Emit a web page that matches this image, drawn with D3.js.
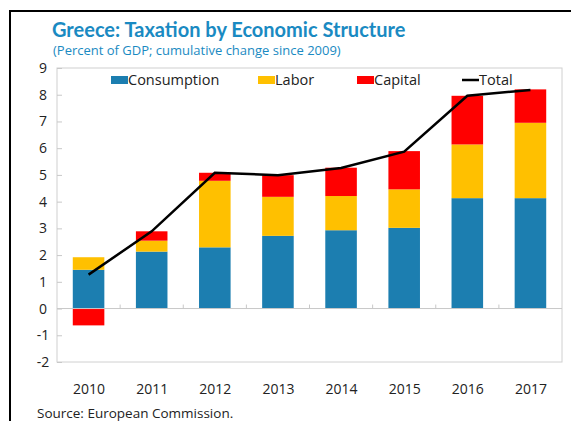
<!DOCTYPE html>
<html><head><meta charset="utf-8">
<script src="https://cdn.jsdelivr.net/npm/d3@7"></script>
<style>html,body{margin:0;padding:0;background:#fff;}svg{display:block;}</style>
</head><body>
<svg id="chart" width="571" height="421"></svg>
<script>
const years = ["2010","2011","2012","2013","2014","2015","2016","2017"];
const consumption = [1.45, 2.13, 2.29, 2.72, 2.93, 3.02, 4.13, 4.13];
const labor = [0.47, 0.41, 2.49, 1.46, 1.28, 1.44, 2.01, 2.82];
const capital = [-0.63, 0.35, 0.30, 0.81, 1.06, 1.43, 1.82, 1.25];
const total = [1.27, 2.89, 5.08, 4.99, 5.26, 5.87, 7.96, 8.18];
const yTicks = [-2,-1,0,1,2,3,4,5,6,7,8,9];
const seriesNames = ["Consumption","Labor","Capital"];
const colors = {Consumption:"#1C7EB0", Labor:"#FFC000", Capital:"#FF0000"};
const font = "'Open Sans', 'Noto Sans', sans-serif";
const titleFont = "Lato, 'Open Sans', sans-serif";

const svg = d3.select("#chart");
const L = 57, R = 562, T = 68, B = 362;
const x = d3.scaleBand().domain(years).range([L, R]).paddingInner(0.5).paddingOuter(0.25);
const xc = d3.scalePoint().domain(years).range([L, R]).padding(0.5);
const y = d3.scaleLinear().domain([-2, 9]).range([B, T]);

// frame
svg.append("path").attr("d", `M10,421 V11 H575`).attr("fill","none").attr("stroke","#000").attr("stroke-width",2);

// title
svg.append("text").attr("x",52).attr("y",37).attr("font-family",titleFont).attr("font-weight","bold")
  .attr("font-size",20).attr("fill","#1A8AC2").text("Greece: Taxation by Economic Structure");
svg.append("text").attr("x",53).attr("y",55).attr("font-family",font)
  .attr("font-size",13).attr("fill","#1A8AC2").text("(Percent of GDP; cumulative change since 2009)");

// plot border
svg.append("rect").attr("x",L).attr("y",T).attr("width",R-L).attr("height",B-T)
  .attr("fill","none").attr("stroke","#d0d0d0").attr("stroke-width",1);

// y axis
const yAxis = d3.axisLeft(y).tickValues(yTicks).tickSize(-5).tickPadding(12).tickFormat(d => String(d));
const gy = svg.append("g").attr("transform",`translate(${L},0)`).call(yAxis);
gy.select(".domain").remove();
gy.selectAll(".tick line").attr("stroke","#c8c8c8");
gy.selectAll(".tick text").attr("font-family",font).attr("font-size",14).attr("fill","#222")
  .attr("text-anchor","middle").attr("dx",-2);

// bars
const stackData = years.map((yr,i)=>({year:yr, Consumption:consumption[i], Labor:labor[i], Capital:capital[i]}));
const stack = d3.stack().keys(seriesNames).offset(d3.stackOffsetDiverging);
const layers = stack(stackData);
svg.append("g").selectAll("g").data(layers).join("g").attr("fill",d=>colors[d.key])
  .selectAll("rect").data(d=>d).join("rect")
  .attr("x",d=>x(d.data.year)).attr("width",x.bandwidth())
  .attr("y",d=>y(Math.max(d[0],d[1]))).attr("height",d=>Math.abs(y(d[0])-y(d[1])));

// zero line and x ticks
svg.append("line").attr("x1",L).attr("x2",R).attr("y1",y(0)).attr("y2",y(0)).attr("stroke","#c8c8c8").attr("stroke-width",1);
const bounds = years.slice(1).map((yr)=> xc(yr) - xc.step()/2);
svg.append("g").selectAll("line").data(bounds).join("line")
  .attr("x1",d=>d).attr("x2",d=>d).attr("y1",y(0)).attr("y2",y(0)-4).attr("stroke","#c8c8c8");

// x labels
const xAxis = d3.axisBottom(xc).tickSize(0).tickPadding(0);
const gx = svg.append("g").attr("transform",`translate(0,${B+22})`).call(xAxis);
gx.select(".domain").remove();
gx.selectAll(".tick text").attr("font-family",font).attr("font-size",14).attr("fill","#222");

// total line
const line = d3.line().x((d,i)=>xc(years[i])).y(d=>y(d));
svg.append("path").datum(total).attr("d",line).attr("fill","none").attr("stroke","#000").attr("stroke-width",2.5);

// legend
const legend = [
  {name:"Consumption", x:111, type:"rect"},
  {name:"Labor", x:258, type:"rect"},
  {name:"Capital", x:357, type:"rect"},
  {name:"Total", x:462, type:"line"}
];
const lg = svg.append("g");
legend.forEach(l=>{
  if(l.type==="rect"){
    lg.append("rect").attr("x",l.x).attr("y",76).attr("width",17).attr("height",8).attr("fill",colors[l.name]);
  } else {
    lg.append("line").attr("x1",l.x).attr("x2",l.x+17).attr("y1",80).attr("y2",80).attr("stroke","#000").attr("stroke-width",2.5);
  }
  lg.append("text").attr("x",l.x+17).attr("y",85).attr("font-family",font).attr("font-size",14.5).attr("fill","#222").text(l.name);
});

// source
svg.append("text").attr("x",37).attr("y",418).attr("font-family",font).attr("font-size",13.5).attr("fill","#222").text("Source: European Commission.");
</script>
</body></html>
